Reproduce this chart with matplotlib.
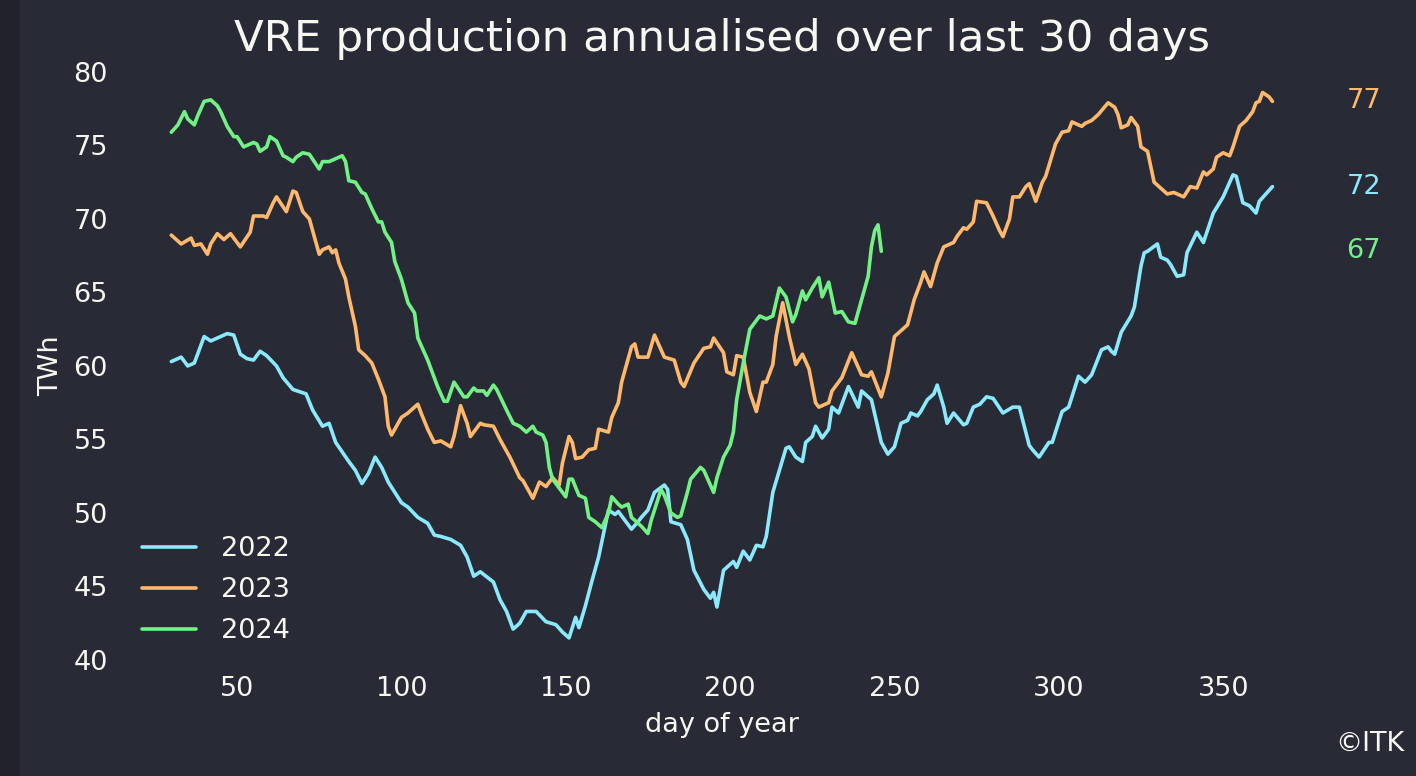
import matplotlib.pyplot as plt
from matplotlib.patches import Rectangle

plt.rcParams['font.family'] = ['DejaVu Sans']

# 30-day rolling production, annualised (TWh)
days_2022 = [30, 33, 35, 37, 40, 42, 44, 47, 49, 51, 53, 55, 57, 59, 62, 64, 67, 71, 73, 76,
	78, 80, 84, 86, 88, 90, 92, 94, 96, 100, 102, 105, 108, 110, 112, 115, 118, 120, 122, 124,
	128, 130, 132, 134, 136, 138, 141, 144, 147, 149, 151, 153, 154, 156, 158, 160, 163, 165, 166, 170,
	172, 173, 175, 177, 180, 181, 182, 185, 187, 189, 192, 194, 195, 196, 198, 201, 202, 204, 206, 208,
	210, 211, 213, 215, 217, 218, 220, 222, 223, 225, 226, 228, 230, 231, 233, 236, 239, 240, 243, 246,
	248, 250, 252, 254, 255, 257, 258, 260, 262, 263, 265, 266, 268, 271, 272, 274, 276, 278, 280, 283,
	286, 288, 291, 292, 294, 297, 298, 301, 303, 306, 308, 310, 313, 315, 316, 317, 319, 322, 323, 325,
	326, 327, 330, 331, 333, 334, 336, 338, 339, 342, 344, 347, 350, 353, 354, 356, 358, 360, 361, 363, 365]
twh_2022 = [60.3, 60.6, 60.0, 60.2, 62.0, 61.7, 61.9, 62.2, 62.1, 60.8, 60.5, 60.4, 61.0, 60.7, 60.0, 59.2, 58.4, 58.1, 57.0, 55.9,
	56.1, 54.8, 53.5, 52.9, 52.0, 52.7, 53.8, 53.1, 52.1, 50.7, 50.4, 49.7, 49.3, 48.5, 48.4, 48.2, 47.8, 47.0, 45.7, 46.0,
	45.3, 44.1, 43.3, 42.1, 42.5, 43.3, 43.3, 42.6, 42.4, 41.9, 41.5, 42.9, 42.2, 43.7, 45.4, 47.0, 50.2, 49.9, 50.1, 48.9,
	49.4, 49.7, 50.2, 51.4, 51.9, 51.6, 49.4, 49.2, 48.2, 46.1, 44.8, 44.2, 44.6, 43.6, 46.1, 46.7, 46.3, 47.4, 46.8, 47.8,
	47.7, 48.4, 51.4, 52.9, 54.4, 54.5, 53.8, 53.5, 54.8, 55.2, 55.9, 55.1, 55.7, 57.2, 56.8, 58.6, 57.2, 58.3, 57.7, 54.8,
	54.0, 54.5, 56.1, 56.3, 56.8, 56.6, 56.9, 57.7, 58.1, 58.7, 57.2, 56.1, 56.8, 56.0, 56.1, 57.2, 57.4, 57.9, 57.8, 56.8,
	57.2, 57.2, 54.6, 54.3, 53.8, 54.8, 54.8, 56.9, 57.2, 59.3, 58.9, 59.4, 61.1, 61.3, 61.0, 60.8, 62.3, 63.4, 64.0, 66.8,
	67.7, 67.8, 68.3, 67.4, 67.2, 66.9, 66.1, 66.2, 67.7, 69.1, 68.4, 70.4, 71.5, 73.0, 72.9, 71.1, 70.9, 70.4, 71.2, 71.7, 72.2]

days_2023 = [30, 33, 36, 37, 39, 41, 42, 44, 46, 48, 51, 54, 55, 58, 59, 61, 62, 65, 67, 68,
	70, 72, 75, 76, 78, 79, 80, 81, 83, 84, 86, 87, 89, 91, 93, 95, 96, 97, 100, 102,
	103, 105, 106, 108, 110, 112, 115, 116, 118, 120, 121, 124, 125, 128, 130, 133, 136, 137, 140, 142,
	144, 146, 148, 149, 151, 152, 153, 155, 157, 159, 160, 163, 164, 166, 167, 170, 171, 172, 175, 177,
	180, 183, 185, 186, 189, 192, 194, 195, 198, 199, 201, 202, 204, 206, 208, 210, 211, 213, 214, 216,
	218, 220, 222, 224, 226, 227, 230, 231, 234, 237, 240, 242, 243, 246, 248, 250, 252, 254, 256, 258,
	259, 261, 263, 265, 268, 269, 271, 272, 274, 275, 278, 280, 282, 283, 285, 286, 288, 290, 291, 293,
	295, 296, 299, 301, 303, 304, 307, 308, 310, 312, 315, 317, 318, 319, 321, 322, 324, 325, 327, 329,
	331, 333, 335, 338, 340, 342, 344, 345, 347, 348, 350, 352, 353, 355, 357, 359, 360, 361, 362, 364, 365]
twh_2023 = [68.9, 68.3, 68.7, 68.2, 68.3, 67.6, 68.3, 69.0, 68.6, 69.0, 68.1, 69.1, 70.2, 70.2, 70.1, 71.1, 71.5, 70.5, 71.9, 71.8,
	70.5, 70.0, 67.6, 67.9, 68.1, 67.7, 67.9, 67.0, 65.9, 64.7, 62.7, 61.1, 60.7, 60.2, 59.1, 57.9, 55.9, 55.3, 56.5, 56.8,
	57.0, 57.4, 56.8, 55.7, 54.8, 54.9, 54.5, 55.2, 57.3, 56.1, 55.2, 56.1, 56.0, 55.9, 55.0, 53.8, 52.4, 52.2, 51.0, 52.1,
	51.8, 52.4, 51.9, 53.4, 55.2, 54.8, 53.7, 53.8, 54.3, 54.4, 55.7, 55.5, 56.5, 57.5, 58.9, 61.3, 61.5, 60.6, 60.6, 62.1,
	60.6, 60.4, 58.9, 58.6, 60.2, 61.2, 61.3, 61.9, 60.9, 59.6, 59.4, 60.7, 60.6, 58.2, 56.9, 58.9, 58.9, 60.1, 62.0, 64.3,
	62.0, 60.1, 60.8, 59.8, 57.5, 57.2, 57.5, 58.3, 59.2, 60.9, 59.4, 59.3, 59.6, 57.9, 59.5, 62.0, 62.4, 62.8, 64.5, 65.7,
	66.4, 65.4, 67.0, 68.1, 68.4, 68.8, 69.4, 69.3, 69.8, 71.2, 71.1, 70.2, 69.2, 68.8, 70.0, 71.5, 71.5, 72.2, 72.4, 71.2,
	72.5, 72.9, 75.1, 75.9, 76.0, 76.6, 76.3, 76.5, 76.7, 77.1, 77.9, 77.6, 77.1, 76.2, 76.4, 76.9, 76.3, 74.9, 74.6, 72.5,
	72.1, 71.7, 71.8, 71.5, 72.2, 72.1, 73.2, 73.0, 73.4, 74.2, 74.5, 74.3, 74.9, 76.3, 76.7, 77.3, 77.9, 78.0, 78.6, 78.3, 78.0]

days_2024 = [30, 32, 34, 35, 37, 38, 40, 42, 44, 45, 47, 49, 50, 52, 55, 56, 57, 59, 60, 62,
	64, 65, 67, 68, 70, 72, 75, 76, 78, 80, 82, 83, 84, 86, 88, 89, 91, 93, 94, 95,
	97, 98, 100, 102, 104, 105, 108, 111, 113, 114, 116, 119, 120, 122, 123, 125, 126, 128, 129, 132,
	134, 136, 138, 140, 141, 143, 144, 145, 146, 148, 150, 151, 152, 154, 156, 157, 159, 161, 163, 164,
	166, 167, 169, 170, 173, 175, 176, 178, 179, 180, 182, 184, 185, 187, 188, 191, 192, 193, 195, 196,
	198, 200, 201, 202, 204, 206, 207, 209, 211, 213, 215, 217, 219, 220, 222, 223, 225, 227, 228, 230,
	232, 234, 236, 238, 240, 242, 243, 244, 245, 246]
twh_2024 = [75.9, 76.4, 77.3, 76.8, 76.4, 77.0, 78.0, 78.1, 77.7, 77.3, 76.3, 75.6, 75.6, 74.9, 75.2, 75.1, 74.6, 74.9, 75.6, 75.3,
	74.3, 74.2, 73.9, 74.2, 74.5, 74.4, 73.4, 73.9, 73.9, 74.1, 74.3, 73.9, 72.6, 72.5, 71.8, 71.7, 70.7, 69.8, 69.8, 69.1,
	68.4, 67.1, 65.9, 64.3, 63.6, 61.9, 60.4, 58.6, 57.6, 57.6, 58.9, 57.9, 57.9, 58.5, 58.3, 58.3, 58.0, 58.7, 58.4, 57.0,
	56.1, 55.9, 55.5, 55.9, 55.5, 55.3, 54.8, 53.1, 52.3, 51.7, 51.1, 52.3, 52.3, 51.2, 51.0, 49.7, 49.4, 49.0, 50.0, 51.1,
	50.6, 50.4, 50.6, 49.7, 49.1, 48.6, 49.5, 50.9, 51.6, 51.2, 50.0, 49.7, 49.8, 51.4, 52.3, 53.1, 52.9, 52.4, 51.4, 52.4,
	53.8, 54.6, 55.5, 57.7, 60.2, 62.5, 62.8, 63.4, 63.2, 63.4, 65.3, 64.7, 63.0, 63.5, 65.1, 64.5, 65.3, 66.0, 64.7, 65.7,
	63.6, 63.7, 63.0, 62.9, 64.5, 66.1, 68.1, 69.2, 69.6, 67.8]

years = ['2022', '2023', '2024']
end_labels = ['72', '77', '67']
colors = ['#8be9fd', '#ffb86c', '#72f285']

BG = '#282a36'
FG = '#f8f8f2'
FS = 19.5

fig = plt.figure(figsize=(14.16, 7.76), dpi=100, facecolor=BG)
# darker strip at the left edge of the page
fig.patches.append(Rectangle((0, 0), 18/1416, 1, transform=fig.transFigure, color='#21222c', zorder=0))

ax = fig.add_axes([0.0821, 0.1427, 0.8554, 0.7733])
ax.set_facecolor(BG)
for s in ax.spines.values():
	s.set_visible(False)

series = [(days_2022, twh_2022), (days_2023, twh_2023), (days_2024, twh_2024)]
for (d, v), year, col, lab in zip(series, years, colors, end_labels):
	ax.plot(d, v, color=col, lw=2.6, label=year, solid_capstyle='round', solid_joinstyle='round')
	ax.text(387.5, v[-1], lab, color=col, fontsize=FS, ha='left', va='center', clip_on=False)

ax.set_xlim(13.25, 381.75)
ax.set_ylim(39.64, 80.46)
ax.set_xticks([50, 100, 150, 200, 250, 300, 350])
ax.set_yticks([40, 45, 50, 55, 60, 65, 70, 75, 80])
ax.tick_params(axis='both', length=0, labelsize=FS, labelcolor=FG)
ax.tick_params(axis='x', pad=8)
ax.tick_params(axis='y', pad=6)

ax.set_xlabel('day of year', fontsize=FS, color=FG, labelpad=7)
ax.set_ylabel('TWh', fontsize=FS, color=FG, labelpad=7)
ax.set_title('VRE production annualised over last 30 days', fontsize=31.3, color=FG, pad=10)

leg = ax.legend(loc='lower left', bbox_to_anchor=(0.004, 0), frameon=False, fontsize=FS,
	handlelength=2.0, labelspacing=0.55, handletextpad=0.9, borderaxespad=0.38)
for t in leg.get_texts():
	t.set_color(FG)

fig.text(0.992, 0.042, '©ITK', color=FG, fontsize=FS, ha='right', va='center')

plt.savefig('out.png', facecolor=BG)
